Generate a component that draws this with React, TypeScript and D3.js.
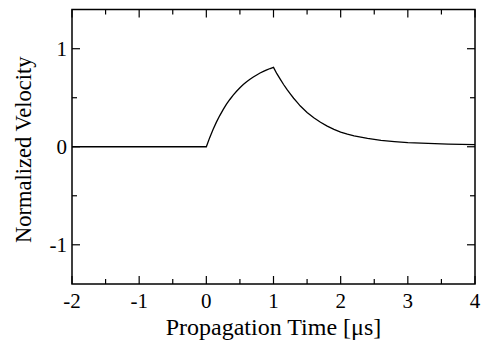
import React from "react";
import * as d3 from "d3";

const X_TICKS = [-2, -1, 0, 1, 2, 3, 4];
const X_MINOR = [-1.5, -0.5, 0.5, 1.5, 2.5, 3.5];
const Y_TICKS = [-1, 0, 1];
const Y_MINOR = [-0.5, 0.5];

const TIME = [
  -2, 0, 0.05, 0.1, 0.15, 0.2, 0.25, 0.3, 0.35, 0.4, 0.45, 0.5, 0.55, 0.6, 0.65,
  0.7, 0.75, 0.8, 0.85, 0.9, 0.95, 1.0, 1.05, 1.1, 1.15, 1.2, 1.25, 1.3, 1.35,
  1.4, 1.5, 1.6, 1.7, 1.8, 1.9, 2.0, 2.1, 2.2, 2.4, 2.6, 2.8, 3.0, 3.3, 3.6, 4.0,
];
const VELOCITY = [
  0, 0, 0.093, 0.176, 0.251, 0.318, 0.379, 0.434, 0.482, 0.527, 0.566, 0.602,
  0.634, 0.663, 0.688, 0.711, 0.732, 0.752, 0.769, 0.784, 0.798, 0.81, 0.745,
  0.69, 0.635, 0.585, 0.54, 0.495, 0.455, 0.415, 0.35, 0.295, 0.25, 0.21, 0.178,
  0.15, 0.128, 0.11, 0.085, 0.066, 0.053, 0.043, 0.034, 0.027, 0.022,
];

const W = 481;
const H = 343;
const M = { left: 72, right: 6, top: 9.5, bottom: 59 };

export default function App() {
  const x = d3.scaleLinear().domain([-2, 4]).range([M.left, W - M.right]);
  const y = d3.scaleLinear().domain([-1.4, 1.4]).range([H - M.bottom, M.top]);
  const data = TIME.map((t, i) => [t, VELOCITY[i]] as [number, number]);
  const line = d3
    .line<[number, number]>()
    .x((d) => x(d[0]))
    .y((d) => y(d[1]))
    .curve(d3.curveLinear);

  const x0 = M.left;
  const x1 = W - M.right;
  const y0 = H - M.bottom;
  const y1 = M.top;
  const font = "'Liberation Serif', 'Times New Roman', serif";
  const major = 8;
  const minor = 5;

  return (
    <svg
      width={W}
      height={H}
      style={{ position: "absolute", left: 0, top: 0, background: "#fff" }}
    >
      <rect x={0} y={0} width={W} height={H} fill="#fff" />
      <path d={line(data) || ""} fill="none" stroke="#000" strokeWidth={1.3} />
      {X_TICKS.map((t) => (
        <g key={"xt" + t}>
          <line x1={x(t)} x2={x(t)} y1={y0} y2={y0 - major} stroke="#000" strokeWidth={1.2} />
          <line x1={x(t)} x2={x(t)} y1={y1} y2={y1 + major} stroke="#000" strokeWidth={1.2} />
          <text
            x={x(t)}
            y={y0 + 24}
            textAnchor="middle"
            fontFamily={font}
            fontSize={21}
            fill="#000"
          >
            {t}
          </text>
        </g>
      ))}
      {X_MINOR.map((t) => (
        <g key={"xm" + t}>
          <line x1={x(t)} x2={x(t)} y1={y0} y2={y0 - minor} stroke="#000" strokeWidth={1.2} />
          <line x1={x(t)} x2={x(t)} y1={y1} y2={y1 + minor} stroke="#000" strokeWidth={1.2} />
        </g>
      ))}
      {Y_TICKS.map((v) => (
        <g key={"yt" + v}>
          <line x1={x0} x2={x0 + major} y1={y(v)} y2={y(v)} stroke="#000" strokeWidth={1.2} />
          <line x1={x1} x2={x1 - major} y1={y(v)} y2={y(v)} stroke="#000" strokeWidth={1.2} />
          <text
            x={x0 - 5}
            y={y(v) + 7.5}
            textAnchor="end"
            fontFamily={font}
            fontSize={21}
            fill="#000"
          >
            {v}
          </text>
        </g>
      ))}
      {Y_MINOR.map((v) => (
        <g key={"ym" + v}>
          <line x1={x0} x2={x0 + minor} y1={y(v)} y2={y(v)} stroke="#000" strokeWidth={1.2} />
          <line x1={x1} x2={x1 - minor} y1={y(v)} y2={y(v)} stroke="#000" strokeWidth={1.2} />
        </g>
      ))}
      <rect
        x={x0}
        y={y1}
        width={x1 - x0}
        height={y0 - y1}
        fill="none"
        stroke="#000"
        strokeWidth={1.5}
      />
      <text
        x={(x0 + x1) / 2}
        y={335}
        textAnchor="middle"
        fontFamily={font}
        fontSize={24}
        fill="#000"
      >
        Propagation Time [μs]
      </text>
      <text
        transform={`translate(31, ${(y0 + y1) / 2 + 3}) rotate(-90)`}
        textAnchor="middle"
        fontFamily={font}
        fontSize={22.5}
        fill="#000"
      >
        Normalized Velocity
      </text>
    </svg>
  );
}
